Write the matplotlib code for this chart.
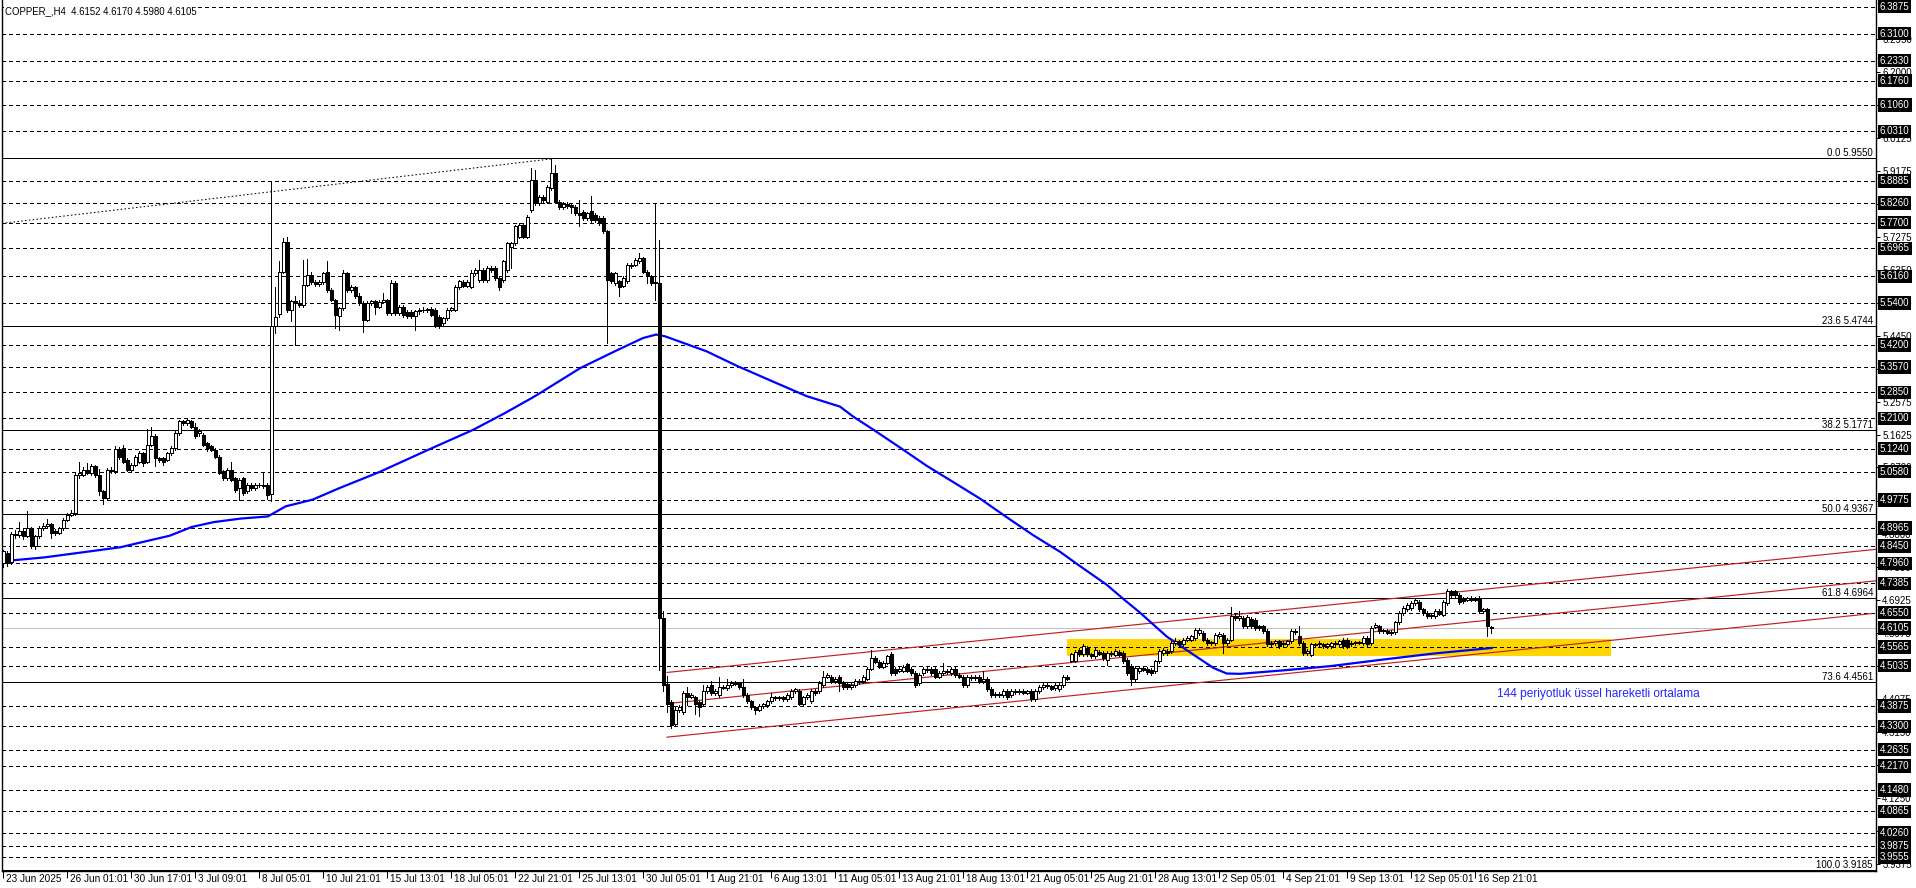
import matplotlib
matplotlib.use("Agg")
import matplotlib.pyplot as plt
from matplotlib.patches import Rectangle
from matplotlib.collections import LineCollection
from matplotlib.transforms import blended_transform_factory

plt.rcParams['font.family'] = ['Liberation Sans', 'DejaVu Sans']

# ---------------- data (COPPER_, H4) ----------------
OPEN = [
 4.797,4.825,4.800,4.880,4.877,4.887,4.875,4.897,4.845,4.873,
 4.897,4.902,4.909,4.887,4.883,4.897,4.921,4.935,4.940,5.049,
 5.049,5.064,5.054,5.073,5.049,5.002,4.983,5.064,5.060,5.122,
 5.125,5.092,5.064,5.078,5.087,5.111,5.087,5.135,5.159,5.097,
 5.097,5.092,5.111,5.125,5.168,5.202,5.197,5.202,5.187,5.168,
 5.163,5.140,5.130,5.121,5.101,5.059,5.040,5.064,5.040,5.011,
 5.040,5.002,5.021,5.011,5.021,5.020,5.021,4.995,5.475,5.510,
 5.630,5.716,5.520,5.545,5.540,5.535,5.592,5.620,5.600,5.595,
 5.600,5.630,5.578,5.549,5.502,5.525,5.625,5.578,5.585,5.560,
 5.540,5.492,5.540,5.545,5.530,5.544,5.549,5.511,5.597,5.511,
 5.530,5.515,5.515,5.502,5.516,5.521,5.520,5.523,5.520,5.500,
 5.482,5.497,5.521,5.521,5.585,5.600,5.590,5.587,5.625,5.606,
 5.635,5.606,5.640,5.640,5.611,5.606,5.635,5.700,5.711,5.730,
 5.764,5.730,5.806,5.892,5.826,5.844,5.830,5.868,5.911,5.830,
 5.816,5.823,5.820,5.816,5.797,5.800,5.783,5.802,5.792,5.783,
 5.783,5.745,5.625,5.597,5.602,5.590,5.602,5.649,5.649,5.659,
 5.668,5.630,5.616,5.599,5.597,4.641,4.450,4.400,4.337,4.378,
 4.372,4.425,4.415,4.413,4.400,4.395,4.431,4.448,4.425,4.419,
 4.442,4.440,4.448,4.454,4.454,4.442,4.419,4.401,4.384,4.378,
 4.388,4.390,4.401,4.413,4.410,4.413,4.408,4.413,4.431,4.431,
 4.395,4.413,4.401,4.431,4.431,4.448,4.472,4.472,4.460,4.472,
 4.454,4.452,4.442,4.448,4.460,4.460,4.466,4.495,4.524,4.515,
 4.501,4.512,4.536,4.495,4.489,4.489,4.507,4.495,4.483,4.454,
 4.483,4.495,4.495,4.495,4.472,4.483,4.489,4.483,4.495,4.477,
 4.472,4.448,4.472,4.468,4.472,4.460,4.466,4.436,4.419,4.423,
 4.419,4.431,4.419,4.431,4.427,4.431,4.426,4.431,4.407,4.431,
 4.442,4.448,4.444,4.440,4.436,4.448,4.472,4.518,4.518,4.548,
 4.536,4.554,4.536,4.530,4.542,4.540,4.521,4.540,4.535,4.543,
 4.540,4.521,4.502,4.464,4.487,4.497,4.495,4.492,4.487,4.516,
 4.540,4.545,4.545,4.568,4.573,4.564,4.578,4.578,4.583,4.597,
 4.597,4.578,4.568,4.568,4.587,4.592,4.568,4.578,4.645,4.640,
 4.640,4.616,4.637,4.635,4.616,4.616,4.602,4.564,4.568,4.573,
 4.564,4.564,4.573,4.602,4.587,4.568,4.540,4.535,4.564,4.564,
 4.564,4.560,4.559,4.566,4.564,4.578,4.578,4.566,4.568,4.570,
 4.568,4.583,4.568,4.615,4.616,4.602,4.602,4.599,4.599,4.627,
 4.654,4.664,4.668,4.683,4.685,4.664,4.654,4.645,4.645,4.659,
 4.649,4.683,4.716,4.716,4.706,4.697,4.692,4.697,4.692,4.697,
 4.659,4.664,4.6152]
HIGH = [
 4.835,4.832,4.885,4.890,4.915,4.895,4.945,4.900,4.878,4.902,
 4.910,4.923,4.912,4.893,4.900,4.925,4.940,4.948,5.055,5.087,
 5.070,5.082,5.080,5.078,5.066,5.006,5.068,5.070,5.130,5.128,
 5.135,5.097,5.083,5.106,5.116,5.115,5.180,5.187,5.165,5.100,
 5.100,5.115,5.130,5.173,5.207,5.206,5.210,5.206,5.197,5.180,
 5.168,5.144,5.134,5.125,5.105,5.063,5.068,5.087,5.044,5.040,
 5.044,5.025,5.026,5.025,5.026,5.054,5.025,5.889,5.587,5.660,
 5.725,5.730,5.550,5.560,5.550,5.664,5.665,5.630,5.607,5.606,
 5.630,5.659,5.583,5.553,5.530,5.635,5.630,5.592,5.590,5.570,
 5.545,5.545,5.550,5.550,5.550,5.568,5.553,5.606,5.602,5.535,
 5.535,5.520,5.520,5.520,5.526,5.530,5.527,5.528,5.525,5.505,
 5.500,5.525,5.530,5.592,5.606,5.605,5.605,5.635,5.640,5.664,
 5.640,5.645,5.645,5.645,5.616,5.664,5.716,5.716,5.764,5.768,
 5.770,5.792,5.926,5.920,5.850,5.850,5.878,5.952,5.935,5.835,
 5.828,5.830,5.825,5.820,5.835,5.805,5.800,5.845,5.797,5.788,
 5.788,5.750,5.630,5.630,5.606,5.616,5.654,5.655,5.668,5.683,
 5.672,5.635,5.620,5.826,5.721,4.660,4.475,4.405,4.384,4.390,
 4.430,4.442,4.425,4.418,4.405,4.448,4.447,4.460,4.436,4.472,
 4.447,4.466,4.460,4.460,4.458,4.466,4.424,4.406,4.389,4.393,
 4.398,4.406,4.425,4.418,4.418,4.418,4.424,4.436,4.440,4.436,
 4.418,4.424,4.436,4.436,4.459,4.489,4.482,4.477,4.471,4.477,
 4.459,4.457,4.453,4.465,4.465,4.477,4.500,4.548,4.530,4.520,
 4.517,4.535,4.542,4.500,4.500,4.506,4.512,4.500,4.488,4.482,
 4.500,4.500,4.500,4.500,4.488,4.512,4.494,4.500,4.500,4.482,
 4.477,4.477,4.477,4.477,4.477,4.489,4.471,4.441,4.428,4.428,
 4.436,4.436,4.436,4.436,4.436,4.436,4.435,4.436,4.436,4.447,
 4.453,4.453,4.449,4.453,4.453,4.477,4.477,4.541,4.547,4.553,
 4.565,4.559,4.541,4.553,4.547,4.545,4.545,4.545,4.550,4.548,
 4.545,4.526,4.507,4.502,4.502,4.502,4.500,4.497,4.521,4.550,
 4.554,4.550,4.573,4.583,4.578,4.583,4.588,4.592,4.611,4.611,
 4.602,4.583,4.575,4.597,4.599,4.597,4.583,4.671,4.650,4.660,
 4.645,4.648,4.642,4.640,4.621,4.621,4.607,4.573,4.578,4.578,
 4.573,4.578,4.607,4.607,4.616,4.573,4.550,4.569,4.569,4.573,
 4.569,4.569,4.572,4.573,4.578,4.583,4.583,4.573,4.575,4.574,
 4.588,4.588,4.616,4.624,4.621,4.609,4.607,4.604,4.632,4.659,
 4.673,4.683,4.688,4.697,4.690,4.669,4.659,4.654,4.664,4.664,
 4.690,4.722,4.720,4.720,4.711,4.700,4.700,4.702,4.700,4.702,
 4.669,4.669,4.617]
LOW = [
 4.785,4.788,4.795,4.868,4.870,4.865,4.870,4.840,4.838,4.868,
 4.890,4.897,4.868,4.876,4.879,4.892,4.916,4.930,4.935,5.040,
 5.045,5.050,5.048,5.044,4.992,4.966,4.978,5.055,5.055,5.095,
 5.082,5.059,5.060,5.074,5.083,5.073,5.083,5.130,5.075,5.087,
 5.078,5.088,5.107,5.120,5.163,5.190,5.192,5.182,5.155,5.160,
 5.130,5.116,5.116,5.097,5.050,5.035,5.035,5.030,5.000,4.978,
 4.990,4.997,5.005,5.006,5.014,5.010,4.980,4.975,5.455,5.500,
 5.625,5.515,5.490,5.420,5.530,5.530,5.588,5.595,5.590,5.590,
 5.595,5.573,5.545,5.470,5.464,5.520,5.573,5.573,5.555,5.535,
 5.458,5.488,5.535,5.508,5.525,5.540,5.506,5.506,5.506,5.505,
 5.500,5.497,5.497,5.464,5.510,5.515,5.515,5.502,5.473,5.468,
 5.477,5.492,5.516,5.516,5.580,5.585,5.585,5.582,5.620,5.600,
 5.600,5.600,5.630,5.606,5.578,5.600,5.630,5.640,5.706,5.725,
 5.725,5.725,5.800,5.820,5.820,5.830,5.825,5.862,5.825,5.810,
 5.810,5.812,5.797,5.792,5.760,5.778,5.778,5.773,5.773,5.763,
 5.740,5.426,5.597,5.592,5.560,5.585,5.597,5.640,5.645,5.655,
 5.625,5.597,5.592,5.550,4.490,4.430,4.370,4.325,4.331,4.372,
 4.366,4.390,4.410,4.366,4.360,4.390,4.426,4.420,4.420,4.414,
 4.436,4.435,4.443,4.448,4.437,4.414,4.396,4.379,4.366,4.373,
 4.383,4.385,4.396,4.405,4.405,4.403,4.403,4.408,4.426,4.390,
 4.390,4.408,4.396,4.420,4.426,4.443,4.467,4.455,4.455,4.431,
 4.437,4.437,4.437,4.443,4.452,4.455,4.461,4.490,4.510,4.496,
 4.496,4.507,4.478,4.478,4.484,4.484,4.484,4.478,4.443,4.449,
 4.478,4.485,4.478,4.467,4.467,4.478,4.480,4.478,4.472,4.467,
 4.443,4.443,4.463,4.463,4.455,4.455,4.431,4.414,4.414,4.415,
 4.414,4.408,4.414,4.422,4.422,4.421,4.421,4.402,4.402,4.426,
 4.437,4.439,4.433,4.435,4.431,4.443,4.461,4.513,4.513,4.531,
 4.531,4.531,4.525,4.525,4.533,4.520,4.506,4.532,4.530,4.530,
 4.511,4.478,4.449,4.459,4.482,4.487,4.480,4.478,4.482,4.511,
 4.535,4.535,4.540,4.563,4.559,4.559,4.573,4.573,4.578,4.592,
 4.573,4.563,4.563,4.563,4.582,4.540,4.563,4.573,4.635,4.635,
 4.611,4.611,4.611,4.606,4.606,4.597,4.559,4.559,4.563,4.554,
 4.559,4.559,4.568,4.595,4.563,4.535,4.535,4.530,4.557,4.559,
 4.555,4.555,4.554,4.561,4.559,4.554,4.554,4.561,4.563,4.564,
 4.563,4.559,4.563,4.610,4.597,4.597,4.593,4.592,4.594,4.622,
 4.649,4.659,4.663,4.678,4.659,4.649,4.640,4.640,4.640,4.647,
 4.644,4.678,4.700,4.700,4.680,4.683,4.687,4.687,4.687,4.654,
 4.654,4.587,4.598]
CLOSE = [
 4.830,4.797,4.880,4.877,4.887,4.873,4.897,4.845,4.873,4.897,
 4.902,4.909,4.883,4.883,4.897,4.921,4.935,4.940,5.049,5.054,
 5.064,5.054,5.073,5.049,5.002,4.983,5.064,5.060,5.122,5.100,
 5.087,5.064,5.078,5.101,5.111,5.083,5.135,5.159,5.097,5.092,
 5.087,5.111,5.125,5.168,5.202,5.197,5.206,5.187,5.159,5.175,
 5.135,5.125,5.121,5.101,5.054,5.040,5.064,5.035,5.006,5.035,
 4.997,5.021,5.011,5.021,5.020,5.016,4.992,5.475,5.500,5.630,
 5.716,5.520,5.545,5.540,5.535,5.592,5.620,5.600,5.595,5.600,
 5.625,5.578,5.549,5.506,5.525,5.625,5.578,5.587,5.560,5.540,
 5.492,5.540,5.545,5.530,5.544,5.549,5.511,5.597,5.511,5.530,
 5.505,5.502,5.502,5.516,5.521,5.520,5.523,5.507,5.478,5.475,
 5.497,5.521,5.525,5.587,5.602,5.590,5.600,5.625,5.635,5.635,
 5.606,5.640,5.635,5.611,5.587,5.659,5.711,5.711,5.759,5.764,
 5.730,5.787,5.892,5.826,5.844,5.835,5.873,5.911,5.830,5.816,
 5.823,5.818,5.816,5.797,5.792,5.783,5.797,5.778,5.778,5.768,
 5.745,5.606,5.602,5.625,5.587,5.611,5.649,5.645,5.664,5.668,
 5.630,5.616,5.597,5.597,4.640,4.448,4.395,4.335,4.378,4.384,
 4.425,4.415,4.419,4.395,4.384,4.431,4.442,4.425,4.431,4.442,
 4.440,4.448,4.454,4.452,4.442,4.419,4.401,4.384,4.378,4.388,
 4.393,4.401,4.413,4.410,4.413,4.408,4.419,4.431,4.436,4.395,
 4.413,4.419,4.431,4.425,4.454,4.472,4.477,4.460,4.466,4.454,
 4.442,4.442,4.448,4.460,4.457,4.472,4.495,4.524,4.515,4.501,
 4.512,4.530,4.483,4.483,4.495,4.501,4.489,4.483,4.448,4.477,
 4.495,4.490,4.483,4.472,4.483,4.489,4.485,4.495,4.477,4.472,
 4.448,4.472,4.468,4.472,4.460,4.466,4.436,4.419,4.423,4.420,
 4.431,4.413,4.431,4.427,4.431,4.426,4.430,4.407,4.431,4.442,
 4.448,4.444,4.438,4.448,4.448,4.472,4.466,4.536,4.542,4.536,
 4.560,4.536,4.530,4.548,4.538,4.525,4.540,4.537,4.545,4.535,
 4.516,4.483,4.464,4.497,4.497,4.492,4.485,4.483,4.516,4.545,
 4.549,4.540,4.568,4.573,4.564,4.578,4.583,4.587,4.606,4.606,
 4.578,4.568,4.570,4.592,4.594,4.568,4.578,4.645,4.640,4.645,
 4.616,4.643,4.616,4.611,4.611,4.602,4.564,4.568,4.573,4.559,
 4.568,4.573,4.602,4.600,4.568,4.540,4.545,4.564,4.562,4.568,
 4.560,4.564,4.567,4.568,4.573,4.559,4.559,4.568,4.570,4.569,
 4.583,4.564,4.611,4.619,4.602,4.604,4.598,4.597,4.627,4.654,
 4.668,4.678,4.683,4.692,4.664,4.654,4.645,4.649,4.659,4.652,
 4.685,4.716,4.706,4.706,4.685,4.688,4.697,4.692,4.695,4.659,
 4.664,4.616,4.6105]

# 144-period EMA read at sample bars
MA_BAR = [0, 10.4, 21.6, 29.4, 32.7, 41.7, 47.2, 52.8, 59.5, 66.2, 70.7, 77.4, 84.1,
          94.1, 106.4, 117.6, 125.4, 132.1, 134.3, 144.3, 153.3, 160.0, 163.3, 165.5,
          170.1, 175.9, 183.4, 192.6, 200.9, 205.9, 209.25, 212.6, 217.6, 224.25,
          230.9, 237.6, 244.25, 250.9, 257.6, 264.25, 269.25, 275.9, 280.1, 284.25,
          290.9, 297.6, 302.6, 305.9, 309.25, 320.1, 331.75, 345.1, 357.6, 372.2]
MA_VAL = [4.802, 4.813, 4.830, 4.842, 4.851, 4.875, 4.900, 4.914, 4.924, 4.930, 4.959, 4.978, 5.011,
          5.057, 5.121, 5.178, 5.225, 5.268, 5.283, 5.354, 5.404, 5.440, 5.450, 5.445,
          5.426, 5.402, 5.361, 5.315, 5.274, 5.256, 5.244, 5.215, 5.178, 5.127,
          5.075, 5.028, 4.981, 4.928, 4.876, 4.829, 4.788, 4.735, 4.694, 4.655,
          4.587, 4.535, 4.497, 4.481, 4.480, 4.490, 4.502, 4.521, 4.538, 4.554]

LEVELS = [6.3875, 6.3100, 6.2330, 6.1760, 6.1060, 6.0310, 5.8885, 5.8260, 5.7700, 5.6965,
          5.6160, 5.5400, 5.4200, 5.3570, 5.2850, 5.2100, 5.1240, 5.0580, 4.9775, 4.8965,
          4.8450, 4.7960, 4.7385, 4.6550, 4.5565, 4.5035, 4.3875, 4.3300, 4.2635, 4.2170,
          4.1480, 4.0865, 4.0260, 3.9875, 3.9555]
BID = 4.6105
FIB_PCT = ['0.0', '23.6', '38.2', '50.0', '61.8', '73.6', '100.0']
FIB_VAL = [5.9550, 5.4744, 5.1771, 4.9367, 4.6964, 4.4561, 3.9185]
AXIS_TICKS = [6.2950, 6.2000, 6.1075, 6.0125, 5.9175, 5.8225, 5.7275, 5.6350, 5.5400,
              5.4450, 5.3525, 5.2575, 5.1625, 5.0700, 4.9750, 4.8800, 4.7850, 4.6925,
              4.5975, 4.5025, 4.4075, 4.3150, 4.2200, 4.1250, 4.0300, 3.9375]
TIME_BARS = [0, 16, 32, 48, 64, 80, 96, 112, 128, 144, 160, 176, 192, 208, 224, 240,
             256, 272, 288, 304, 320, 336, 352, 368]
TIME_LABELS = ['23 Jun 2025', '26 Jun 01:01', '30 Jun 17:01', '3 Jul 09:01', '8 Jul 05:01',
               '10 Jul 21:01', '15 Jul 13:01', '18 Jul 05:01', '22 Jul 21:01', '25 Jul 13:01',
               '30 Jul 05:01', '1 Aug 21:01', '6 Aug 13:01', '11 Aug 05:01', '13 Aug 21:01',
               '18 Aug 13:01', '21 Aug 05:01', '25 Aug 21:01', '28 Aug 13:01', '2 Sep 05:01',
               '4 Sep 21:01', '9 Sep 13:01', '12 Sep 05:01', '16 Sep 21:01']
# channel lines (bar, price) anchors
CH_TOP = ([166, 468.25], [4.484, 4.836])
CH_MID = ([166, 468.25], [4.395, 4.746])
CH_LOW = ([166, 467.0], [4.299, 4.652])
DOT_LINE = ([-0.25, 137], [5.768, 5.952])
ZONE_BARS = [266, 402]
ZONE_PRICES = [4.532, 4.580]
TITLE = 'COPPER_,H4  4.6152 4.6170 4.5980 4.6105'
NOTE = '144 periyotluk üssel hareketli ortalama'
NOTE_POS = (373.5, 4.421)

# ---------------- layout ----------------
W, H, DPI = 1916, 888, 100
fig = plt.figure(figsize=(W / DPI, H / DPI), dpi=DPI, facecolor='white')
PX_L, PX_R, PX_T, PX_B = 2, 1876, 0, 871
ax = fig.add_axes([PX_L / W, 1 - PX_B / H, (PX_R - PX_L) / W, (PX_B - PX_T) / H])
ax.set_facecolor('white')
BAR_PX, X0_PX = 4.0, 3.0
ax.set_xlim((PX_L - X0_PX) / BAR_PX, (PX_R - X0_PX) / BAR_PX)
ax.set_ylim(3.9164, 6.4064)

for s in ['left', 'right', 'bottom']:
    ax.spines[s].set_color('black')
    ax.spines[s].set_linewidth(1.0)
ax.spines['top'].set_visible(False)

LW1 = 0.72
# zone rectangle
ax.add_patch(Rectangle((ZONE_BARS[0], ZONE_PRICES[0]), ZONE_BARS[1] - ZONE_BARS[0],
                       ZONE_PRICES[1] - ZONE_PRICES[0], fc='#FFD700', ec='none', zorder=0.5))
# dashed levels
for v in LEVELS:
    ax.axhline(v, color='black', lw=LW1, ls=(0, (4, 3)), zorder=1, antialiased=False)
# fib levels
for p, v in zip(FIB_PCT, FIB_VAL):
    ax.axhline(v, color='black', lw=LW1, zorder=1.2, antialiased=False)
# bid line
ax.axhline(BID, color='#C0C0C0', lw=LW1, zorder=1.1, antialiased=False)

# trend lines
for xs, ys in [CH_TOP, CH_MID, CH_LOW]:
    ax.plot(xs, ys, color='#C41E1E', lw=0.85, zorder=2)
ax.plot(DOT_LINE[0], DOT_LINE[1], color='black', lw=0.75, ls=(0, (1.5, 2.2)), zorder=2)

# moving average
ax.plot(MA_BAR, MA_VAL, color='#0000FF', lw=1.6, zorder=3, solid_joinstyle='round')

# candles: wicks only outside the body, bodies hollow (up) or filled (down)
n = min(len(OPEN), len(HIGH), len(LOW), len(CLOSE))
segs = []
for i in range(n):
    top = max(OPEN[i], CLOSE[i])
    bot = min(OPEN[i], CLOSE[i])
    if HIGH[i] > top:
        segs.append([(i, top), (i, HIGH[i])])
    if LOW[i] < bot:
        segs.append([(i, LOW[i]), (i, bot)])
ax.add_collection(LineCollection(segs, colors='black', linewidths=LW1, zorder=5, antialiased=False))
BODY_W = 0.75
for i in range(n):
    o, c = OPEN[i], CLOSE[i]
    fc = 'white' if c > o else 'black'
    ax.add_patch(Rectangle((i - BODY_W / 2, min(o, c)), BODY_W, abs(c - o), fc=fc, ec='black',
                           lw=LW1, zorder=6, antialiased=False))

# annotation
ax.text(NOTE_POS[0], NOTE_POS[1], NOTE, color='#2626FF', fontsize=8.6, va='center', ha='left', zorder=8)

# right price axis
ax.yaxis.tick_right()
ax.set_yticks(AXIS_TICKS)
ax.set_yticklabels([f'{v:.4f}' for v in AXIS_TICKS])
ax.tick_params(axis='y', direction='out', length=3, width=LW1, pad=1.5, labelsize=7, colors='black')
trans = blended_transform_factory(fig.transFigure, ax.transData)
for v in LEVELS + [BID]:
    ax.text(1880 / W, v, f'{v:.4f}', transform=trans, fontsize=7, color='white', va='center',
            ha='left', clip_on=False, zorder=20,
            bbox=dict(boxstyle='square,pad=0.18', fc='black', ec='none'))
for p, v in zip(FIB_PCT, FIB_VAL):
    ax.text(1873 / W, v, f'{p} {v:.4f}', transform=trans, fontsize=7, color='black',
            va='bottom', ha='right', zorder=9)

# time axis
ax.set_xticks(TIME_BARS)
ax.set_xticklabels([])
ax.tick_params(axis='x', direction='out', length=5, width=LW1, colors='black')
for b, lab in zip(TIME_BARS, TIME_LABELS):
    ax.annotate(lab, xy=(b, 0), xycoords=('data', 'axes fraction'), xytext=(3, -8),
                textcoords='offset pixels', fontsize=7.2, va='center', ha='left',
                annotation_clip=False)

# title
fig.text(5 / W, 1 - 11 / H, TITLE, fontsize=6.9, va='center', ha='left',
         bbox=dict(boxstyle='square,pad=0.15', fc='white', ec='none'), zorder=10)

fig.savefig('out.png', dpi=DPI, facecolor='white')
